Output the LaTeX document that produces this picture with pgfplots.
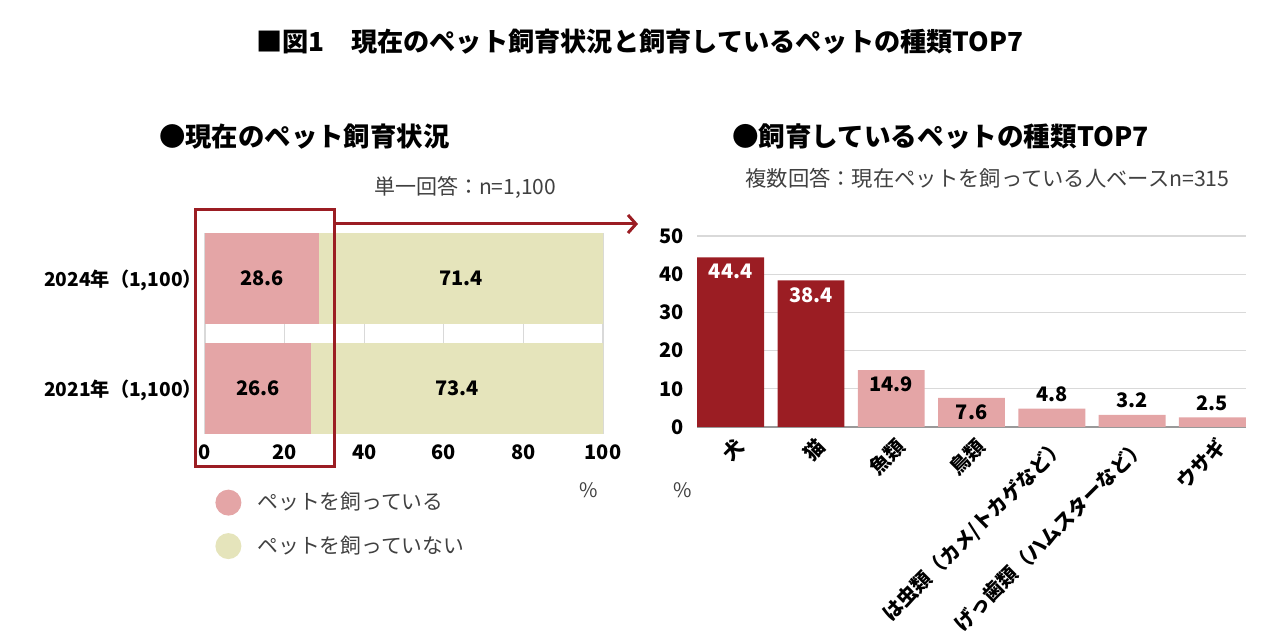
\documentclass[border=0pt]{standalone}
\usepackage{fontspec}
\setmainfont{Noto Sans CJK JP}
\usepackage{pgfplots}
\pgfplotsset{compat=1.18}
\usetikzlibrary{arrows.meta}

\definecolor{darkred}{RGB}{155,29,35}
\definecolor{petpink}{RGB}{228,165,166}
\definecolor{petbeige}{RGB}{229,228,187}
\definecolor{gridgray}{RGB}{217,217,217}
\definecolor{txtgray}{RGB}{64,64,64}

\newcommand{\fs}[1]{\fontsize{#1}{#1}\selectfont}

\begin{document}
\begin{tikzpicture}
\path[use as bounding box] (0pt,0pt) rectangle (640pt,320.5pt);

% headings
\node[font=\fs{13.1}\bfseries] at (320pt,299.5pt) {■図1　現在のペット飼育状況と飼育しているペットの種類TOP7};
\node[anchor=west,font=\fs{13.2}\bfseries] at (76pt,252pt) {●現在のペット飼育状況};
\node[anchor=west,font=\fs{13.3}\bfseries] at (362.5pt,252pt) {●飼育しているペットの種類TOP7};
\node[font=\fs{10.5},text=txtgray] at (232.5pt,226.5pt) {単一回答：n=1,100};
\node[font=\fs{10.65},text=txtgray] at (493.75pt,231.5pt) {複数回答：現在ペットを飼っている人ベースn=315};

% current ownership (stacked horizontal bars)
\begin{axis}[
  at={(102.5pt,103.5pt)}, anchor=south west, scale only axis,
  width=199pt, height=100.5pt,
  xbar stacked, bar width=0.827,
  xmin=0, xmax=100, ymin=-0.4136, ymax=1.4136,
  xtick={0,20,...,100}, ytick={0,1},
  yticklabels={{2021年（1,100）},{2024年（1,100）}},
  axis line style={draw=none}, major tick length=0pt,
  xmajorgrids, grid style={gridgray,line width=0.6pt},
  /pgf/number format/assume math mode=true,
  tick label style={font=\fs{10}\bfseries},
  xticklabel style={yshift=-2pt},
  yticklabel style={font=\fs{9.6}\bfseries, xshift=2pt, yshift=-1pt},
  legend style={draw=none, fill=none, at={(0,0)}, anchor=north west,
    xshift=5pt, yshift=-27pt, inner sep=0pt, row sep=7.5pt,
    font=\fs{10.4}, text=txtgray, legend cell align=left},
]
\addplot[fill=petpink, draw=none,
  legend image code/.code={\fill[petpink] (6.5pt,0pt) circle (6.5pt); \path (19pt,0pt);}]
  coordinates {(26.6,0) (28.6,1)};
\addplot[fill=petbeige, draw=none,
  legend image code/.code={\fill[petbeige] (6.5pt,0pt) circle (6.5pt); \path (19pt,0pt);}]
  coordinates {(73.4,0) (71.4,1)};
\legend{ペットを飼っている,ペットを飼っていない}
% segment midpoints for the value labels
\coordinate (own24) at (axis cs:14.3,1);
\coordinate (own21) at (axis cs:13.3,0);
\coordinate (not24) at (axis cs:64.3,1);
\coordinate (not21) at (axis cs:63.3,0);
\end{axis}
\node[font=\fs{10}\bfseries] at (own24) {28.6};
\node[font=\fs{10}\bfseries] at (own21) {26.6};
\node[font=\fs{10}\bfseries] at (not24) {71.4};
\node[font=\fs{10}\bfseries] at (not21) {73.4};

% kinds of pets kept (vertical bars)
\begin{axis}[
  at={(348.5pt,107pt)}, anchor=south west, scale only axis,
  width=274.5pt, height=95.5pt,
  ybar, bar width=0.834,
  xmin=-0.42, xmax=6.42, ymin=0, ymax=50,
  ytick={10,20,...,50}, extra y ticks={0},
  extra y tick style={grid style={draw=gray!80,line width=0.6pt}},
  xtick={0,...,6},
  xticklabels={犬,猫,魚類,鳥類,は虫類（カメ/トカゲなど）,げっ歯類（ハムスターなど）,ウサギ},
  axis line style={draw=none}, major tick length=0pt,
  ymajorgrids, grid style={gridgray,line width=0.6pt},
  /pgf/number format/assume math mode=true,
  tick label style={font=\fs{10}\bfseries},
  yticklabel style={xshift=-3pt},
  xticklabel style={xshift=7.5pt, yshift=-5.5pt, rotate=45, anchor=east},
  nodes near coords={\pgfmathprintnumber[fixed,fixed zerofill,precision=1]{\pgfplotspointmeta}},
  every node near coord/.append style={font=\fs{10}\bfseries},
]
\addplot[fill=darkred, draw=none, bar shift=0pt,
  every node near coord/.append style={anchor=north, text=white}]
  coordinates {(0,44.4) (1,38.4)};
\addplot[fill=petpink, draw=none, bar shift=0pt,
  every node near coord/.append style={anchor=north, text=black}]
  coordinates {(2,14.9) (3,7.6)};
\addplot[fill=petpink, draw=none, bar shift=0pt,
  every node near coord/.append style={anchor=south, text=black}]
  coordinates {(4,4.8) (5,3.2) (6,2.5)};
\end{axis}

% percent units
\node[font=\fs{10},text=txtgray] at (294.5pt,75.5pt) {\%};
\node[font=\fs{10},text=txtgray] at (341.5pt,75.5pt) {\%};

% highlight of the owners' share and link to the breakdown
\draw[darkred, line width=1.5pt] (97.5pt,215.5pt) rectangle (167pt,87pt);
\draw[darkred, line width=1.5pt, -{Straight Barb[length=4pt,width=9pt]}] (167pt,208.5pt) -- (319pt,208.5pt);
\end{tikzpicture}
\end{document}
